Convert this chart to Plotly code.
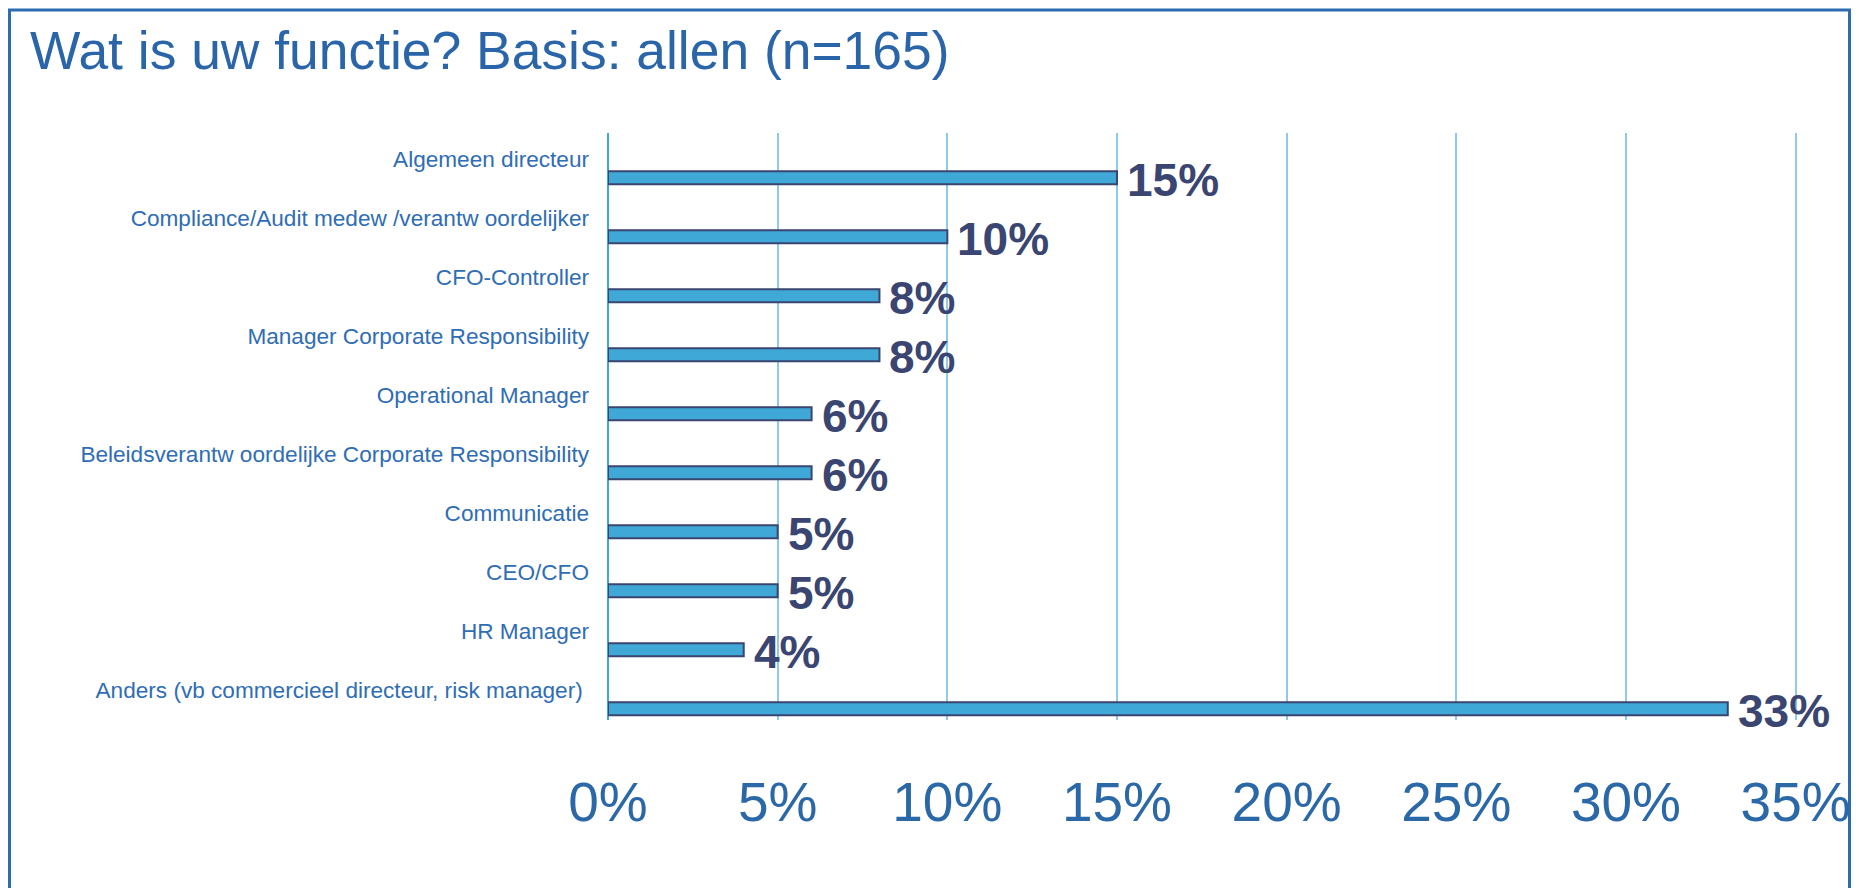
import plotly.graph_objects as go

FONT = "Liberation Sans, Arial, sans-serif"

categories = [
    "Algemeen directeur",
    "Compliance/Audit medew /verantw oordelijker",
    "CFO-Controller",
    "Manager Corporate Responsibility",
    "Operational Manager",
    "Beleidsverantw oordelijke Corporate Responsibility",
    "Communicatie",
    "CEO/CFO",
    "HR Manager",
    "Anders (vb commercieel directeur, risk manager) ",
]
values = [15, 10, 8, 8, 6, 6, 5, 5, 4, 33]
x_ticks = [0, 5, 10, 15, 20, 25, 30, 35]
x_tick_labels = ["0%", "5%", "10%", "15%", "20%", "25%", "30%", "35%"]

positions = list(range(len(categories)))

fig = go.Figure()
fig.add_trace(go.Bar(
    x=values,
    y=positions,
    orientation="h",
    width=0.22,
    marker=dict(color="#3fa8d6", line=dict(color="#3a4572", width=2)),
    hoverinfo="skip",
))

# value labels right of each bar
for p, v in zip(positions, values):
    fig.add_annotation(
        x=v, y=p, xref="x", yref="y",
        text=f"{v}%", showarrow=False,
        xanchor="left", yanchor="middle", xshift=8, yshift=-2,
        font=dict(family=FONT, size=46, color="#3a4572", weight="bold"),
    )

fig.update_xaxes(
    range=[0, 35.04],
    tickvals=x_ticks,
    ticktext=x_tick_labels,
    showgrid=True,
    gridcolor="#8fcbe9",
    gridwidth=1.5,
    zeroline=True,
    zerolinecolor="#3fa8d6",
    zerolinewidth=2,
    showline=False,
    ticks="",
    ticklabelstandoff=45,
    ticklabeloverflow="allow",
    tickfont=dict(family=FONT, size=55, color="#2b68a8"),
)
fig.update_yaxes(
    range=[9.19, -0.76],
    tickvals=[p - 0.32 for p in positions],
    ticktext=categories,
    showgrid=False,
    zeroline=False,
    showline=False,
    ticks="",
    ticklabelstandoff=18,
    tickfont=dict(family=FONT, size=22.6, color="#2f6db5"),
)

# outer frame around the whole chart
W, H = 1843, 880
l, r, t, b = 600, 54, 125, 168
pw, ph = W - l - r, H - t - b
fig.add_shape(
    type="rect", xref="paper", yref="paper",
    x0=(1.5 - l) / pw, x1=(W - 1.5 - l) / pw,
    y0=(H - b - 900) / ph, y1=(H - b - 2) / ph,
    line=dict(color="#2e6bb0", width=3), fillcolor="rgba(0,0,0,0)",
    layer="below",
)

fig.update_layout(
    width=W,
    height=H,
    margin=dict(l=l, r=r, t=t, b=b, autoexpand=False),
    paper_bgcolor="white",
    plot_bgcolor="white",
    showlegend=False,
    title=dict(
        text="Wat is uw functie? Basis: allen (n=165)",
        x=22 / W, xref="container", xanchor="left",
        y=1 - 42 / H, yref="container", yanchor="middle",
        font=dict(family=FONT, size=53.4, color="#2a65a9"),
    ),
)

fig.write_html("out.html")
